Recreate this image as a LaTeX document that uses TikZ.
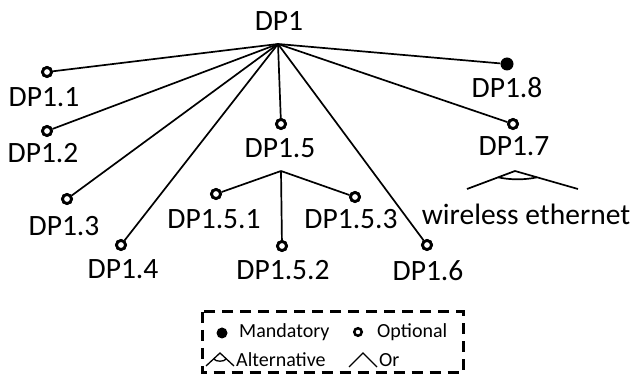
\documentclass[tikz,border=0pt]{standalone}
\usepackage{fontspec}
\setmainfont{Carlito}
\usetikzlibrary{calc}
\begin{document}
\begin{tikzpicture}[x=1pt,y=-1pt,
  edge/.style={line width=1.7pt},
  opt/.style={circle,draw,line width=2.8pt,fill=white,inner sep=0pt,minimum size=9pt},
  mand/.style={circle,fill=black,inner sep=0pt,minimum size=13pt},
  lbl/.style={font=\fontsize{29.5}{31}\selectfont,inner sep=0pt},
  leg/.style={font=\fontsize{20}{22}\selectfont,inner sep=0pt,anchor=west}]
\useasboundingbox (0,0) rectangle (633,374);

% root
\node[lbl] (dp1) at (279,21) {DP1};
\coordinate (root) at (278,44);

% first-level features
\node[opt]  (c11) at (47,72)   {};
\node[opt]  (c12) at (47,131)  {};
\node[opt]  (c13) at (67,199)  {};
\node[opt]  (c14) at (121,245) {};
\node[opt]  (c15) at (281,124) {};
\node[opt]  (c16) at (427,245) {};
\node[opt]  (c17) at (513,124) {};
\node[mand] (c18) at (507,64)  {};

\foreach \c in {c11,c12,c13,c14,c15,c16,c17,c18}
  \draw[edge] (root) -- (\c);
% redraw circles above the edges
\node[opt]  at (c11) {};
\node[opt]  at (c12) {};
\node[opt]  at (c13) {};
\node[opt]  at (c14) {};
\node[opt]  at (c15) {};
\node[opt]  at (c16) {};
\node[opt]  at (c17) {};

\node[lbl] (l11) at (44,97)   {DP1.1};
\node[lbl] (l12) at (43,153)  {DP1.2};
\node[lbl] (l13) at (64,226)  {DP1.3};
\node[lbl] (l14) at (123,269) {DP1.4};
\node[lbl] (l15) at (280,148) {DP1.5};
\node[lbl] (l16) at (428,271) {DP1.6};
\node[lbl] (l17) at (514,146) {DP1.7};
\node[lbl] (l18) at (507,88)  {DP1.8};

% sub-features of DP1.5
\coordinate (b15) at (281,171);
\node[opt] (c151) at (216,194) {};
\node[opt] (c152) at (282,246) {};
\node[opt] (c153) at (355,197) {};
\foreach \c in {c151,c152,c153}
  \draw[edge] (b15) -- (\c);
\node[opt] at (c151) {};
\node[opt] at (c152) {};
\node[opt] at (c153) {};
\node[lbl] (l151) at (214,219) {DP1.5.1};
\node[lbl] (l152) at (283,270) {DP1.5.2};
\node[lbl] (l153) at (351,219) {DP1.5.3};

% alternative group under DP1.7
\coordinate (b17) at (515,171);
\coordinate (a17l) at (467,189);
\coordinate (a17r) at (578,189);
\draw[edge] (a17l) -- (b17) -- (a17r);
\draw[edge] ($(a17l)!0.65!(b17)$) .. controls (510,180) and (525,180) .. ($(a17r)!0.65!(b17)$);
\node[lbl] (wl) at (526,214) {wireless ethernet};

% legend
\draw[line width=3pt,dash pattern=on 11pt off 7pt] (202,312) rectangle (463,372.5);
\node[mand,minimum size=11pt] (lm) at (222,333) {};
\node[leg] (tm) at (239,332) {Mandatory};
\node[opt,minimum size=7.5pt,line width=2.5pt] (lo) at (358,332) {};
\node[leg] (to) at (377,332) {Optional};
\coordinate (alA) at (220,353);
\coordinate (alL) at (206,366);
\coordinate (alR) at (234,366);
\draw[line width=1.3pt] (alL) -- (alA) -- (alR);
\draw[line width=1.3pt] ($(alL)!0.55!(alA)$) .. controls (216,362) and (224,362) .. ($(alR)!0.55!(alA)$);
\node[leg] (ta) at (236,359.5) {Alternative};
\coordinate (orA) at (363,353);
\coordinate (orL) at (349,367);
\coordinate (orR) at (377,367);
\draw[line width=1.3pt] (orL) -- (orA) -- (orR);
\node[leg] (tor) at (379,360) {Or};
\end{tikzpicture}
\end{document}
